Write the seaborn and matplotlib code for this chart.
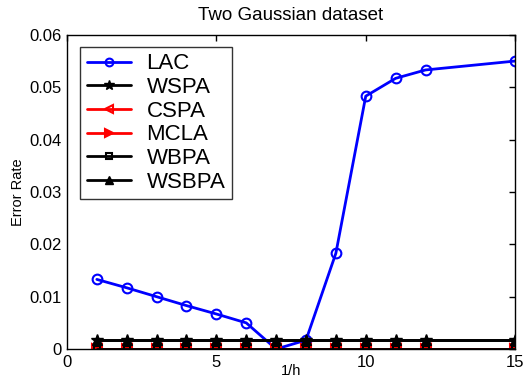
import matplotlib
matplotlib.use("Agg")
import matplotlib.pyplot as plt
import seaborn as sns
import pandas as pd

# 1/h values and error rates per method
inv_h = [1, 2, 3, 4, 5, 6, 7, 8, 9, 10, 11, 12, 15]
lac = [0.0133, 0.0117, 0.0100, 0.0083, 0.0067, 0.0050, 0.0000, 0.0017,
       0.0183, 0.0483, 0.0517, 0.0533, 0.0550]
wspa = [0.0017] * 13
cspa = [0.0] * 13
mcla = [0.0] * 13
wbpa = [0.0] * 13
wsbpa = [0.0017] * 13

methods = ["LAC", "WSPA", "CSPA", "MCLA", "WBPA", "WSBPA"]
values = [lac, wspa, cspa, mcla, wbpa, wsbpa]

sns.set_style("white")
plt.rcParams["font.family"] = ["Liberation Sans", "DejaVu Sans"]
plt.rcParams["text.color"] = "black"
plt.rcParams["axes.labelcolor"] = "black"

styles = {
    "LAC":   dict(color="#0000ff", marker="o", mfc="none", ms=7, mew=1.5),
    "WSPA":  dict(color="black", marker="*", mfc="black", ms=9, mew=1),
    "CSPA":  dict(color="red", marker="<", mfc="none", ms=7, mew=1.5),
    "MCLA":  dict(color="red", marker=">", mfc="red", ms=7, mew=1.5),
    "WBPA":  dict(color="black", marker="s", mfc="none", ms=5, mew=1.5),
    "WSBPA": dict(color="black", marker="^", mfc="black", ms=7, mew=1),
}

fig = plt.figure(figsize=(5.23, 3.79), dpi=100)
ax = fig.add_axes([0.128, 0.079, 0.857, 0.829])

for name, vals in zip(methods, values):
    df = pd.DataFrame({"x": inv_h, "y": vals})
    st = styles[name]
    sns.lineplot(data=df, x="x", y="y", ax=ax, label=name, color=st["color"],
                 marker=st["marker"], markerfacecolor=st["mfc"],
                 markeredgecolor=st["color"], markersize=st["ms"],
                 markeredgewidth=st["mew"], linewidth=2)

ax.set_xlim(0, 15)
ax.set_ylim(0, 0.06)
ax.set_xticks([0, 5, 10, 15])
ax.set_xticklabels(["0", "5", "10", "15"])
ax.set_yticks([0, 0.01, 0.02, 0.03, 0.04, 0.05, 0.06])
ax.set_yticklabels(["0", "0.01", "0.02", "0.03", "0.04", "0.05", "0.06"])
ax.tick_params(direction="in", length=4, width=1, labelsize=12, colors="black",
               top=True, right=True, pad=4)
for s in ax.spines.values():
    s.set_visible(True)
    s.set_color("black")
    s.set_linewidth(1)

ax.set_title("Two Gaussian dataset", fontsize=13.5, pad=11, color="black")
ax.set_xlabel("1/h", fontsize=10.5)
ax.xaxis.set_label_coords(0.5, -0.048)
ax.set_ylabel("Error Rate", fontsize=10.5, labelpad=3)

leg = ax.legend(loc="upper left", bbox_to_anchor=(0.029, 0.962), fontsize=16,
                frameon=True, fancybox=False, edgecolor="black",
                handlelength=2.0, handletextpad=0.7, labelspacing=0.12,
                borderpad=0.3, borderaxespad=0, markerscale=0.8)
leg.get_frame().set_linewidth(1)
for t in leg.get_texts():
    t.set_color("black")

fig.savefig("out.png", dpi=100)
